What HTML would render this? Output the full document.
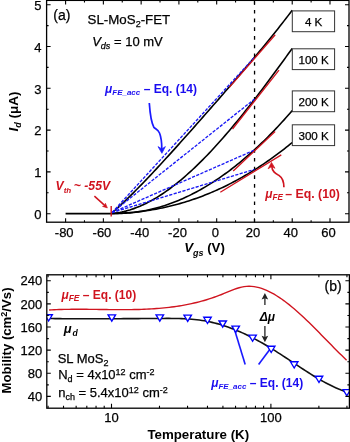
<!DOCTYPE html>
<html><head><meta charset="utf-8"><style>
html,body{margin:0;padding:0;background:#fff;width:350px;height:442px;overflow:hidden}
body{position:relative;font-family:"Liberation Sans", sans-serif}
text.n{stroke:#000;stroke-width:0.25px}
</style></head><body>
<svg width="350" height="442" viewBox="0 0 350 442" style="position:absolute;left:0;top:0;will-change:transform"><g font-family='"Liberation Sans", sans-serif'><line x1="254.55" y1="0.8" x2="254.55" y2="222.2" stroke="#000" stroke-width="1.3" stroke-dasharray="3.6 5.108" stroke-dashoffset="-0.4"/><line x1="65.60" y1="213.6" x2="112" y2="213.6" stroke="#000" stroke-width="1.6"/><path d="M111.50,213.50 L113.53,211.59 L115.56,209.77 L117.59,207.92 L119.62,206.05 L121.65,204.16 L123.68,202.24 L125.71,200.30 L127.74,198.34 L129.77,196.36 L131.80,194.35 L133.83,192.33 L135.86,190.30 L137.89,188.24 L139.92,186.17 L141.96,184.08 L143.99,181.98 L146.02,179.87 L148.05,177.74 L150.08,175.59 L152.11,173.44 L154.14,171.28 L156.17,169.10 L158.20,166.91 L160.23,164.72 L162.26,162.51 L164.29,160.30 L166.32,158.08 L168.35,155.85 L170.38,153.61 L172.41,151.37 L174.44,149.12 L176.47,146.87 L178.50,144.61 L180.53,142.34 L182.56,140.07 L184.59,137.80 L186.62,135.52 L188.65,133.23 L190.68,130.95 L192.71,128.66 L194.74,126.36 L196.77,124.06 L198.80,121.76 L200.83,119.46 L202.87,117.15 L204.90,114.84 L206.93,112.53 L208.96,110.22 L210.99,107.90 L213.02,105.58 L215.05,103.25 L217.08,100.93 L219.11,98.60 L221.14,96.27 L223.17,93.93 L225.20,91.59 L227.23,89.25 L229.26,86.91 L231.29,84.56 L233.32,82.20 L235.35,79.85 L237.38,77.48 L239.41,75.12 L241.44,72.74 L243.47,70.36 L245.50,67.98 L247.53,65.59 L249.56,63.19 L251.59,60.79 L253.62,58.37 L255.65,55.95 L257.68,53.52 L259.71,51.09 L261.74,48.64 L263.78,46.18 L265.81,43.71 L267.84,41.23 L269.87,38.73 L271.90,36.23 L273.93,33.71 L275.96,31.18 L277.99,28.63 L280.02,26.06 L282.05,23.48 L284.08,20.88 L286.11,18.27 L288.14,15.63 L290.17,12.98 L292.20,10.30" fill="none" stroke="#000" stroke-width="1.6" stroke-linejoin="round"/><path d="M111.50,213.50 L113.53,213.38 L115.56,213.14 L117.59,212.84 L119.62,212.49 L121.65,212.09 L123.68,211.64 L125.71,211.14 L127.74,210.58 L129.77,209.98 L131.80,209.32 L133.83,208.62 L135.86,207.87 L137.89,207.07 L139.92,206.23 L141.96,205.33 L143.99,204.40 L146.02,203.41 L148.05,202.38 L150.08,201.31 L152.11,200.19 L154.14,199.03 L156.17,197.83 L158.20,196.58 L160.23,195.30 L162.26,193.97 L164.29,192.60 L166.32,191.19 L168.35,189.74 L170.38,188.26 L172.41,186.73 L174.44,185.17 L176.47,183.57 L178.50,181.93 L180.53,180.26 L182.56,178.55 L184.59,176.80 L186.62,175.02 L188.65,173.21 L190.68,171.36 L192.71,169.49 L194.74,167.57 L196.77,165.63 L198.80,163.66 L200.83,161.65 L202.87,159.61 L204.90,157.55 L206.93,155.45 L208.96,153.33 L210.99,151.18 L213.02,149.00 L215.05,146.80 L217.08,144.56 L219.11,142.31 L221.14,140.02 L223.17,137.72 L225.20,135.38 L227.23,133.03 L229.26,130.65 L231.29,128.25 L233.32,125.83 L235.35,123.38 L237.38,120.92 L239.41,118.43 L241.44,115.92 L243.47,113.40 L245.50,110.85 L247.53,108.29 L249.56,105.71 L251.59,103.12 L253.62,100.50 L255.65,97.88 L257.68,95.23 L259.71,92.57 L261.74,89.90 L263.78,87.21 L265.81,84.51 L267.84,81.80 L269.87,79.07 L271.90,76.33 L273.93,73.59 L275.96,70.83 L277.99,68.06 L280.02,65.28 L282.05,62.49 L284.08,59.70 L286.11,56.89 L288.14,54.08 L290.17,51.27 L292.20,48.44" fill="none" stroke="#000" stroke-width="1.6" stroke-linejoin="round"/><path d="M111.50,213.50 L113.53,213.48 L115.56,213.49 L117.59,213.49 L119.62,213.45 L121.65,213.38 L123.68,213.29 L125.71,213.17 L127.74,213.03 L129.77,212.85 L131.80,212.65 L133.83,212.42 L135.86,212.16 L137.89,211.88 L139.92,211.56 L141.96,211.22 L143.99,210.86 L146.02,210.46 L148.05,210.04 L150.08,209.59 L152.11,209.11 L154.14,208.61 L156.17,208.08 L158.20,207.52 L160.23,206.93 L162.26,206.32 L164.29,205.67 L166.32,205.01 L168.35,204.31 L170.38,203.59 L172.41,202.83 L174.44,202.06 L176.47,201.25 L178.50,200.42 L180.53,199.56 L182.56,198.67 L184.59,197.76 L186.62,196.82 L188.65,195.85 L190.68,194.85 L192.71,193.83 L194.74,192.78 L196.77,191.70 L198.80,190.59 L200.83,189.46 L202.87,188.30 L204.90,187.12 L206.93,185.90 L208.96,184.66 L210.99,183.40 L213.02,182.10 L215.05,180.78 L217.08,179.43 L219.11,178.06 L221.14,176.65 L223.17,175.22 L225.20,173.77 L227.23,172.28 L229.26,170.77 L231.29,169.24 L233.32,167.67 L235.35,166.08 L237.38,164.46 L239.41,162.82 L241.44,161.14 L243.47,159.45 L245.50,157.72 L247.53,155.97 L249.56,154.19 L251.59,152.38 L253.62,150.55 L255.65,148.69 L257.68,146.80 L259.71,144.89 L261.74,142.95 L263.78,140.98 L265.81,138.99 L267.84,136.96 L269.87,134.92 L271.90,132.84 L273.93,130.74 L275.96,128.61 L277.99,126.46 L280.02,124.28 L282.05,122.07 L284.08,119.84 L286.11,117.58 L288.14,115.29 L290.17,112.98 L292.20,110.64" fill="none" stroke="#000" stroke-width="1.6" stroke-linejoin="round"/><path d="M111.50,213.50 L113.53,213.46 L115.56,213.41 L117.59,213.34 L119.62,213.26 L121.65,213.16 L123.68,213.05 L125.71,212.92 L127.74,212.78 L129.77,212.62 L131.80,212.45 L133.83,212.26 L135.86,212.05 L137.89,211.83 L139.92,211.60 L141.96,211.34 L143.99,211.07 L146.02,210.79 L148.05,210.49 L150.08,210.17 L152.11,209.83 L154.14,209.48 L156.17,209.11 L158.20,208.73 L160.23,208.33 L162.26,207.91 L164.29,207.48 L166.32,207.03 L168.35,206.56 L170.38,206.07 L172.41,205.57 L174.44,205.05 L176.47,204.51 L178.50,203.95 L180.53,203.38 L182.56,202.79 L184.59,202.18 L186.62,201.56 L188.65,200.91 L190.68,200.25 L192.71,199.57 L194.74,198.88 L196.77,198.16 L198.80,197.43 L200.83,196.67 L202.87,195.90 L204.90,195.11 L206.93,194.30 L208.96,193.48 L210.99,192.63 L213.02,191.77 L215.05,190.88 L217.08,189.98 L219.11,189.06 L221.14,188.12 L223.17,187.16 L225.20,186.18 L227.23,185.18 L229.26,184.16 L231.29,183.13 L233.32,182.07 L235.35,180.99 L237.38,179.90 L239.41,178.78 L241.44,177.64 L243.47,176.49 L245.50,175.31 L247.53,174.11 L249.56,172.90 L251.59,171.66 L253.62,170.40 L255.65,169.12 L257.68,167.82 L259.71,166.50 L261.74,165.16 L263.78,163.80 L265.81,162.42 L267.84,161.01 L269.87,159.59 L271.90,158.14 L273.93,156.68 L275.96,155.19 L277.99,153.68 L280.02,152.15 L282.05,150.60 L284.08,149.02 L286.11,147.42 L288.14,145.81 L290.17,144.17 L292.20,142.50" fill="none" stroke="#000" stroke-width="1.6" stroke-linejoin="round"/><line x1="112" y1="212.6" x2="254.45" y2="57.3" stroke="#1a1af5" stroke-width="1.35" stroke-dasharray="3.2 1.4"/><line x1="112" y1="212.6" x2="254.45" y2="99.1" stroke="#1a1af5" stroke-width="1.35" stroke-dasharray="3.2 1.4"/><line x1="112" y1="212.6" x2="254.45" y2="150.1" stroke="#1a1af5" stroke-width="1.35" stroke-dasharray="3.2 1.4"/><line x1="112" y1="212.6" x2="254.45" y2="169.4" stroke="#1a1af5" stroke-width="1.35" stroke-dasharray="3.2 1.4"/><line x1="229.3" y1="87.4" x2="275.2" y2="34.8" stroke="#d0141f" stroke-width="1.3"/><line x1="232.5" y1="129.0" x2="279" y2="70.2" stroke="#d0141f" stroke-width="1.3"/><line x1="233.2" y1="171.0" x2="275.1" y2="131.5" stroke="#d0141f" stroke-width="1.3"/><line x1="220.3" y1="192.2" x2="281.3" y2="154.9" stroke="#d0141f" stroke-width="1.3"/><line x1="111.2" y1="206.1" x2="111.2" y2="216.4" stroke="#d0141f" stroke-width="1.4"/><rect x="46.6" y="0.4" width="302.4" height="221.79999999999998" fill="none" stroke="#000" stroke-width="1.3"/><path d="M65.60,222.2v-4M65.60,0.4v4M84.48,222.2v-2M84.48,0.4v2M103.37,222.2v-4M103.37,0.4v4M122.25,222.2v-2M122.25,0.4v2M141.14,222.2v-4M141.14,0.4v4M160.02,222.2v-2M160.02,0.4v2M178.91,222.2v-4M178.91,0.4v4M197.79,222.2v-2M197.79,0.4v2M216.68,222.2v-4M216.68,0.4v4M235.56,222.2v-2M235.56,0.4v2M254.45,222.2v-4M254.45,0.4v4M273.34,222.2v-2M273.34,0.4v2M292.22,222.2v-4M292.22,0.4v4M311.11,222.2v-2M311.11,0.4v2M329.99,222.2v-4M329.99,0.4v4M46.6,213.70h4M349.0,213.70h-4M46.6,192.80h2M349.0,192.80h-2M46.6,171.90h4M349.0,171.90h-4M46.6,151.00h2M349.0,151.00h-2M46.6,130.10h4M349.0,130.10h-4M46.6,109.20h2M349.0,109.20h-2M46.6,88.30h4M349.0,88.30h-4M46.6,67.40h2M349.0,67.40h-2M46.6,46.50h4M349.0,46.50h-4M46.6,25.60h2M349.0,25.60h-2M46.6,4.70h4M349.0,4.70h-4" stroke="#000" stroke-width="1.1" fill="none"/><text class="n" x="64.20" y="236.8" font-size="13" text-anchor="middle">-80</text><text class="n" x="101.97" y="236.8" font-size="13" text-anchor="middle">-60</text><text class="n" x="139.74" y="236.8" font-size="13" text-anchor="middle">-40</text><text class="n" x="177.51" y="236.8" font-size="13" text-anchor="middle">-20</text><text class="n" x="215.28" y="236.8" font-size="13" text-anchor="middle">0</text><text class="n" x="253.05" y="236.8" font-size="13" text-anchor="middle">20</text><text class="n" x="290.82" y="236.8" font-size="13" text-anchor="middle">40</text><text class="n" x="328.59" y="236.8" font-size="13" text-anchor="middle">60</text><text class="n" x="41.6" y="218.90" font-size="13" text-anchor="end">0</text><text class="n" x="41.6" y="177.10" font-size="13" text-anchor="end">1</text><text class="n" x="41.6" y="135.30" font-size="13" text-anchor="end">2</text><text class="n" x="41.6" y="93.50" font-size="13" text-anchor="end">3</text><text class="n" x="41.6" y="51.70" font-size="13" text-anchor="end">4</text><text class="n" x="41.6" y="9.90" font-size="13" text-anchor="end">5</text><rect x="292.3" y="10.9" width="42.3" height="20.8" fill="#fff" stroke="#333" stroke-width="1"/><text class="n" x="313.6" y="25.80" font-size="11.6" text-anchor="middle">4 K</text><rect x="292.3" y="48.8" width="42.3" height="20.8" fill="#fff" stroke="#333" stroke-width="1"/><text class="n" x="313.6" y="63.70" font-size="11.6" text-anchor="middle">100 K</text><rect x="292.3" y="90.9" width="42.3" height="20.8" fill="#fff" stroke="#333" stroke-width="1"/><text class="n" x="313.6" y="105.80" font-size="11.6" text-anchor="middle">200 K</text><rect x="292.3" y="124.8" width="42.3" height="20.8" fill="#fff" stroke="#333" stroke-width="1"/><text class="n" x="313.6" y="139.70" font-size="11.6" text-anchor="middle">300 K</text><text class="n" x="53.3" y="19.5" font-size="14">(a)</text><text class="n" x="87.6" y="24.4" font-size="13.3">SL-MoS<tspan font-size="9" dy="3">2</tspan><tspan dy="-3">-FET</tspan></text><text class="n" x="92.2" y="45.6" font-size="13"><tspan font-style="italic">V</tspan><tspan font-style="italic" font-size="9" dy="3">ds</tspan><tspan dy="-3"> = 10 mV</tspan></text><text x="105.0" y="93.0" font-size="12" font-weight="bold" fill="#1a0cf0"><tspan font-style="italic">μ</tspan><tspan font-style="italic" font-size="8" dy="2">FE_acc</tspan><tspan x="143.7" dy="-2">– Eq. (14)</tspan></text><text x="55.5" y="190.2" font-size="12.2" font-weight="bold" font-style="italic" fill="#d0141f">V<tspan font-size="8" dy="2.6">th</tspan><tspan x="73.8" dy="-2.6">~ -55V</tspan></text><text x="265.2" y="197.9" font-size="12" font-weight="bold" fill="#d0141f"><tspan font-style="italic">μ</tspan><tspan font-style="italic" font-size="8.2" dy="2">FE</tspan><tspan x="285.3" dy="-2" font-size="12.3">– Eq. (10)</tspan></text><text x="184.2" y="252.2" font-size="13.3" font-weight="bold"><tspan font-style="italic">V</tspan><tspan font-style="italic" font-size="9" dy="3.6">gs</tspan><tspan dy="-3.6" x="207.2">(V)</tspan></text><text transform="translate(17.6,131.6) rotate(-90)" font-size="13.6" font-weight="bold"><tspan font-style="italic">I</tspan><tspan font-style="italic" font-size="9" dy="3">d</tspan><tspan dy="-3"> (μA)</tspan></text><path d="M149.3,103 C150,113 150.5,121 153.9,127.3 C155.5,129 158,129.5 159.5,133 C161.3,137.5 161.8,143 161.8,149" fill="none" stroke="#1a1aff" stroke-width="1.7"/><path d="M161.9,153.3 L158.0,146.6 L161.8,148.9 L165.4,146.6 Z" fill="#1a1aff" stroke="#1a1aff" stroke-width="0.7" stroke-linejoin="round"/><path d="M283.9,187.3 C283.9,181.5 282.2,177.6 279.2,175.6 C275.6,173.4 272.2,171.8 271.7,166" fill="none" stroke="#d0141f" stroke-width="1.7"/><path d="M271.5,162.4 L268.1,168.8 L271.7,166.6 L275.0,168.3 Z" fill="#d0141f" stroke="#d0141f" stroke-width="0.7" stroke-linejoin="round"/><line x1="94.4" y1="196.1" x2="105.2" y2="205.9" stroke="#d0141f" stroke-width="1.5"/><path d="M107.4,207.9 L102.5,206.4 L104.9,205.6 L105.4,203.2 Z" fill="#d0141f" stroke="#d0141f" stroke-width="0.6" stroke-linejoin="round"/><path d="M49.10,310.03 L51.60,309.89 L54.10,309.77 L56.60,309.66 L59.10,309.57 L61.60,309.49 L64.10,309.42 L66.60,309.37 L69.10,309.33 L71.60,309.30 L74.10,309.28 L76.60,309.27 L79.10,309.27 L81.60,309.27 L84.10,309.29 L86.60,309.30 L89.10,309.33 L91.60,309.35 L94.10,309.38 L96.60,309.42 L99.10,309.45 L101.60,309.48 L104.10,309.52 L106.60,309.55 L109.10,309.58 L111.60,309.61 L114.10,309.63 L116.60,309.65 L119.10,309.66 L121.60,309.67 L124.10,309.67 L126.60,309.66 L129.10,309.64 L131.60,309.61 L134.10,309.57 L136.60,309.52 L139.10,309.45 L141.60,309.37 L144.10,309.28 L146.60,309.17 L149.10,309.05 L151.60,308.91 L154.10,308.75 L156.60,308.57 L159.10,308.38 L161.60,308.16 L164.10,307.92 L166.60,307.66 L169.10,307.37 L171.60,307.06 L174.10,306.73 L176.60,306.37 L179.10,305.98 L181.60,305.57 L184.10,305.13 L186.60,304.66 L189.10,304.15 L191.60,303.62 L194.10,303.05 L196.60,302.46 L199.10,301.83 L201.60,301.16 L204.10,300.46 L206.60,299.72 L209.10,298.94 L211.60,298.13 L214.10,297.28 L216.60,296.38 L219.10,295.45 L221.60,294.48 L224.10,293.46 L226.60,292.41 L229.10,291.37 L231.60,290.35 L234.10,289.38 L236.60,288.50 L239.10,287.74 L241.60,287.11 L244.10,286.65 L246.60,286.37 L249.10,286.28 L251.60,286.37 L254.10,286.65 L256.60,287.09 L259.10,287.69 L261.60,288.44 L264.10,289.34 L266.60,290.38 L269.10,291.54 L271.60,292.82 L274.10,294.21 L276.60,295.72 L279.10,297.32 L281.60,299.02 L284.10,300.81 L286.60,302.69 L289.10,304.65 L291.60,306.68 L294.10,308.79 L296.60,310.96 L299.10,313.19 L301.60,315.48 L304.10,317.82 L306.60,320.20 L309.10,322.62 L311.60,325.08 L314.10,327.56 L316.60,330.07 L319.10,332.60 L321.60,335.15 L324.10,337.70 L326.60,340.25 L329.10,342.81 L331.60,345.35 L334.10,347.89 L336.60,350.41 L339.10,352.90 L341.60,355.37 L344.10,357.80 L346.60,360.20" fill="none" stroke="#d0141f" stroke-width="1.4"/><path d="M47.40,318.50 L49.93,318.54 L52.47,318.57 L55.00,318.60 L57.53,318.63 L60.06,318.66 L62.60,318.68 L65.13,318.70 L67.66,318.72 L70.19,318.74 L72.73,318.75 L75.26,318.76 L77.79,318.77 L80.33,318.78 L82.86,318.78 L85.39,318.79 L87.92,318.79 L90.46,318.79 L92.99,318.79 L95.52,318.79 L98.06,318.78 L100.59,318.77 L103.12,318.77 L105.65,318.76 L108.19,318.75 L110.72,318.74 L113.25,318.73 L115.78,318.71 L118.32,318.70 L120.85,318.69 L123.38,318.67 L125.92,318.66 L128.45,318.64 L130.98,318.63 L133.51,318.61 L136.05,318.59 L138.58,318.58 L141.11,318.56 L143.65,318.54 L146.18,318.53 L148.71,318.51 L151.24,318.50 L153.78,318.48 L156.31,318.47 L158.84,318.45 L161.37,318.44 L163.91,318.43 L166.44,318.42 L168.97,318.42 L171.51,318.43 L174.04,318.46 L176.57,318.50 L179.10,318.56 L181.64,318.65 L184.17,318.75 L186.70,318.89 L189.24,319.05 L191.77,319.25 L194.30,319.48 L196.83,319.76 L199.37,320.07 L201.90,320.43 L204.43,320.83 L206.96,321.29 L209.50,321.80 L212.03,322.36 L214.56,322.97 L217.10,323.63 L219.63,324.34 L222.16,325.11 L224.69,325.92 L227.23,326.77 L229.76,327.68 L232.29,328.63 L234.83,329.62 L237.36,330.66 L239.89,331.74 L242.42,332.87 L244.96,334.03 L247.49,335.24 L250.02,336.48 L252.55,337.77 L255.09,339.09 L257.62,340.45 L260.15,341.84 L262.69,343.27 L265.22,344.74 L267.75,346.24 L270.28,347.77 L272.82,349.33 L275.35,350.93 L277.88,352.55 L280.42,354.19 L282.95,355.84 L285.48,357.51 L288.01,359.20 L290.55,360.88 L293.08,362.57 L295.61,364.26 L298.14,365.94 L300.68,367.62 L303.21,369.28 L305.74,370.92 L308.28,372.54 L310.81,374.14 L313.34,375.71 L315.87,377.25 L318.41,378.75 L320.94,380.21 L323.47,381.62 L326.01,382.99 L328.54,384.31 L331.07,385.57 L333.60,386.78 L336.14,387.92 L338.67,388.99 L341.20,389.99 L343.73,390.92 L346.27,391.77 L348.80,392.54" fill="none" stroke="#111" stroke-width="1.6"/><line x1="234.5" y1="329.5" x2="245.2" y2="364.6" stroke="#1a1aff" stroke-width="1.6"/><line x1="270.5" y1="348.5" x2="258.6" y2="364.6" stroke="#1a1aff" stroke-width="1.6"/><path d="M44.85,314.75 H52.35 L48.60,321.00 Z" fill="#fff" stroke="#0000ff" stroke-width="1.35" stroke-linejoin="miter"/><path d="M108.05,314.85 H115.55 L111.80,321.10 Z" fill="#fff" stroke="#0000ff" stroke-width="1.35" stroke-linejoin="miter"/><path d="M156.05,314.85 H163.55 L159.80,321.10 Z" fill="#fff" stroke="#0000ff" stroke-width="1.35" stroke-linejoin="miter"/><path d="M183.95,315.15 H191.45 L187.70,321.40 Z" fill="#fff" stroke="#0000ff" stroke-width="1.35" stroke-linejoin="miter"/><path d="M203.75,317.25 H211.25 L207.50,323.50 Z" fill="#fff" stroke="#0000ff" stroke-width="1.35" stroke-linejoin="miter"/><path d="M218.95,320.95 H226.45 L222.70,327.20 Z" fill="#fff" stroke="#0000ff" stroke-width="1.35" stroke-linejoin="miter"/><path d="M231.95,326.15 H239.45 L235.70,332.40 Z" fill="#fff" stroke="#0000ff" stroke-width="1.35" stroke-linejoin="miter"/><path d="M248.85,335.05 H256.35 L252.60,341.30 Z" fill="#fff" stroke="#0000ff" stroke-width="1.35" stroke-linejoin="miter"/><path d="M267.45,346.25 H274.95 L271.20,352.50 Z" fill="#fff" stroke="#0000ff" stroke-width="1.35" stroke-linejoin="miter"/><path d="M290.45,361.75 H297.95 L294.20,368.00 Z" fill="#fff" stroke="#0000ff" stroke-width="1.35" stroke-linejoin="miter"/><path d="M315.25,376.25 H322.75 L319.00,382.50 Z" fill="#fff" stroke="#0000ff" stroke-width="1.35" stroke-linejoin="miter"/><path d="M343.05,389.55 H350.55 L346.80,395.80 Z" fill="#fff" stroke="#0000ff" stroke-width="1.35" stroke-linejoin="miter"/><rect x="0" y="274.8" width="46.8" height="133.39999999999998" fill="#fff"/><rect x="349.4" y="274.8" width="0.6000000000000227" height="133.39999999999998" fill="#fff"/><rect x="46.8" y="274.8" width="302.59999999999997" height="133.39999999999998" fill="none" stroke="#000" stroke-width="1.3"/><path d="M48.07,408.2v-2.5M48.07,274.8v2.5M63.52,408.2v-2.5M63.52,274.8v2.5M76.14,408.2v-2.5M76.14,274.8v2.5M86.81,408.2v-2.5M86.81,274.8v2.5M96.05,408.2v-2.5M96.05,274.8v2.5M104.21,408.2v-2.5M104.21,274.8v2.5M111.50,408.2v-4.5M111.50,274.8v4.5M159.48,408.2v-2.5M159.48,274.8v2.5M187.55,408.2v-2.5M187.55,274.8v2.5M207.47,408.2v-2.5M207.47,274.8v2.5M222.92,408.2v-2.5M222.92,274.8v2.5M235.54,408.2v-2.5M235.54,274.8v2.5M246.21,408.2v-2.5M246.21,274.8v2.5M255.45,408.2v-2.5M255.45,274.8v2.5M263.61,408.2v-2.5M263.61,274.8v2.5M270.90,408.2v-4.5M270.90,274.8v4.5M318.88,408.2v-2.5M318.88,274.8v2.5M346.95,408.2v-2.5M346.95,274.8v2.5M46.8,396.40h4M349.4,396.40h-4M46.8,384.84h2M349.4,384.84h-2M46.8,373.28h4M349.4,373.28h-4M46.8,361.72h2M349.4,361.72h-2M46.8,350.16h4M349.4,350.16h-4M46.8,338.60h2M349.4,338.60h-2M46.8,327.04h4M349.4,327.04h-4M46.8,315.48h2M349.4,315.48h-2M46.8,303.92h4M349.4,303.92h-4M46.8,292.36h2M349.4,292.36h-2M46.8,280.80h4M349.4,280.80h-4" stroke="#000" stroke-width="1.1" fill="none"/><text class="n" x="42.2" y="401.00" font-size="13" text-anchor="end">40</text><text class="n" x="42.2" y="377.88" font-size="13" text-anchor="end">80</text><text class="n" x="42.2" y="354.76" font-size="13" text-anchor="end">120</text><text class="n" x="42.2" y="331.64" font-size="13" text-anchor="end">160</text><text class="n" x="42.2" y="308.52" font-size="13" text-anchor="end">200</text><text class="n" x="42.2" y="285.40" font-size="13" text-anchor="end">240</text><text class="n" x="111.50" y="422.4" font-size="13" text-anchor="middle">10</text><text class="n" x="270.90" y="422.4" font-size="13" text-anchor="middle">100</text><text x="147.4" y="439.2" font-size="13.3" font-weight="bold">Temperature (K)</text><text transform="translate(11.2,393.6) rotate(-90)" font-size="13.2" font-weight="bold">Mobility (cm<tspan font-size="9" dy="-4">2</tspan><tspan dy="4">/Vs)</tspan></text><text class="n" x="324.6" y="290.8" font-size="14">(b)</text><text x="61.4" y="299.1" font-size="12" font-weight="bold" fill="#d0141f"><tspan font-style="italic">μ</tspan><tspan font-style="italic" font-size="8.5" dy="2">FE</tspan><tspan dy="-2"> – Eq. (10)</tspan></text><text x="63.8" y="333" font-size="13" font-weight="bold" font-style="italic">μ<tspan font-size="8.6" dy="3.2" dx="0.8">d</tspan></text><text x="259.7" y="321.2" font-size="12" font-weight="bold" font-style="italic">Δμ</text><text x="211.2" y="387.2" font-size="12" font-weight="bold" fill="#1a0cf0"><tspan font-style="italic">μ</tspan><tspan font-style="italic" font-size="8" dy="2">FE_acc</tspan><tspan x="249.8" dy="-2">– Eq. (14)</tspan></text><text class="n" x="57.7" y="362.7" font-size="13">SL MoS<tspan font-size="9" dy="3">2</tspan></text><text class="n" x="58.2" y="379.3" font-size="13">N<tspan font-size="9" dy="3">d</tspan><tspan dy="-3"> = 4x10</tspan><tspan font-size="9" dy="-4">12</tspan><tspan dy="4"> cm</tspan><tspan font-size="9" dy="-4">-2</tspan></text><text class="n" x="58.2" y="396.5" font-size="13">n<tspan font-size="9" dy="3">ch</tspan><tspan dy="-3"> = 5.4x10</tspan><tspan font-size="9" dy="-4">12</tspan><tspan dy="4"> cm</tspan><tspan font-size="9" dy="-4">-2</tspan></text><line x1="264.9" y1="305" x2="264.9" y2="297" stroke="#222" stroke-width="1.3"/><path d="M264.9,293.0 L261.6,299.6 L264.9,298.3 L268.2,299.6 Z" fill="#222"/><line x1="264.9" y1="326" x2="264.9" y2="338" stroke="#222" stroke-width="1.3"/><path d="M264.9,342.3 L261.6,335.7 L264.9,337.0 L268.2,335.7 Z" fill="#222"/></g></svg>
</body></html>
